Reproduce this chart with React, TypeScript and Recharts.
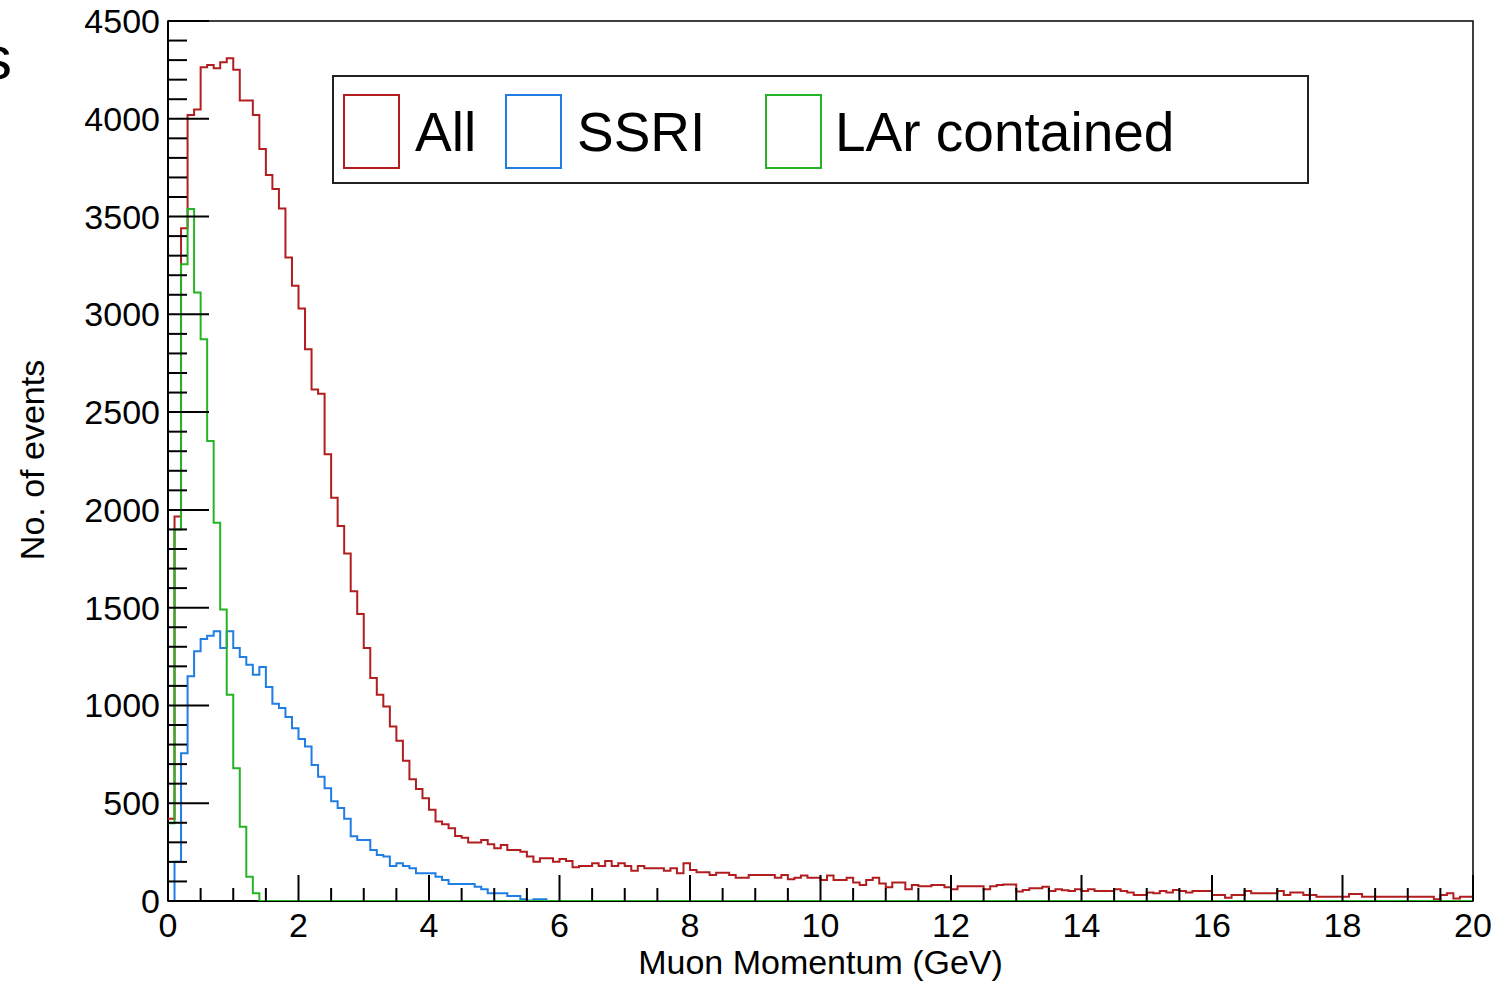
import React from "react";
import { LineChart, Line, XAxis, YAxis, Legend, ReferenceArea, Label } from "recharts";

// histogram bins of 0.1 GeV (No. of events per bin)
const BIN_WIDTH = 0.1;

const allEvents = [
  420, 1966, 3440, 4019, 4047, 4263, 4275, 4258, 4289, 4310,
  4251, 4093, 4093, 4019, 3845, 3712, 3641, 3541, 3290, 3146,
  3030, 2821, 2616, 2594, 2284, 2062, 1917, 1777, 1584, 1468,
  1294, 1140, 1055, 995, 892, 820, 717, 623, 573, 526,
  466, 406, 393, 372, 333, 324, 299, 299, 312, 290,
  270, 287, 261, 261, 252, 227, 201, 218, 218, 201,
  215, 205, 172, 179, 179, 193, 179, 205, 179, 193,
  179, 155, 179, 167, 167, 167, 155, 167, 142, 193,
  159, 147, 147, 133, 145, 145, 133, 119, 119, 133,
  133, 133, 133, 119, 133, 111, 119, 130, 119, 119,
  108, 130, 108, 108, 119, 94, 82, 108, 119, 90,
  70, 94, 94, 60, 82, 75, 75, 82, 82, 70,
  60, 75, 75, 75, 75, 60, 75, 82, 85, 85,
  48, 56, 65, 65, 73, 51, 60, 55, 51, 60,
  51, 60, 51, 51, 51, 60, 51, 43, 31, 31,
  43, 40, 51, 43, 56, 51, 43, 51, 51, 51,
  31, 31, 17, 31, 31, 51, 40, 40, 40, 40,
  51, 31, 43, 43, 31, 31, 22, 22, 22, 22,
  22, 36, 36, 22, 22, 22, 22, 22, 22, 22,
  22, 22, 22, 22, 9, 31, 40, 13, 22, 22,
];

const ssriEvents = [
  0, 201, 756, 1149, 1277, 1340, 1357, 1379, 1294, 1379,
  1294, 1248, 1208, 1157, 1196, 1094, 1009, 987, 941, 884,
  828, 790, 696, 636, 577, 510, 475, 420, 331, 312,
  312, 261, 235, 227, 179, 193, 179, 167, 142, 142,
  142, 124, 108, 87, 87, 87, 87, 73, 60, 39,
  39, 39, 26, 26, 9, 3, 9, 9,
];

const larEvents = [398, 1900, 3256, 3538, 3112, 2873, 2352, 1934, 1490, 1055, 679, 380, 124, 39];

const X_MAJOR = [0, 2, 4, 6, 8, 10, 12, 14, 16, 18, 20];
const X_TICKS = Array.from({ length: 41 }, (_, i) => i * 0.5);
const Y_TICKS = Array.from({ length: 46 }, (_, i) => i * 100);

const SERIES = [
  { key: "all", name: "All", color: "#b21d1f" },
  { key: "ssri", name: "SSRI", color: "#1f7de3" },
  { key: "lar", name: "LAr contained", color: "#25b425" },
];

// one row per bin edge, last row closes the final bin at 20 GeV
const rows = Array.from({ length: allEvents.length + 1 }, (_, i) => {
  const k = Math.min(i, allEvents.length - 1);
  return {
    p: +(i * BIN_WIDTH).toFixed(1),
    all: allEvents[k],
    ssri: ssriEvents[k] ?? 0,
    lar: larEvents[k] ?? 0,
  };
});

const FONT = "'Liberation Sans', Arial, Helvetica, sans-serif";

function XTick(props: any) {
  const { x, y, payload } = props;
  const major = X_MAJOR.includes(payload.value);
  return (
    <g>
      <line x1={x} y1={y} x2={x} y2={y - (major ? 26 : 13)} stroke="#000" strokeWidth={2} />
      {major && (
        <text x={x} y={y + 36} textAnchor="middle" fontSize={34} fontFamily={FONT} fill="#000">
          {payload.value}
        </text>
      )}
    </g>
  );
}

function YTick(props: any) {
  const { x, y, payload } = props;
  const major = payload.value % 500 === 0;
  return (
    <g>
      <line x1={x} y1={y} x2={x + (major ? 41 : 19)} y2={y} stroke="#000" strokeWidth={2} />
      {major && (
        <text x={x - 8} y={y + 12} textAnchor="end" fontSize={34} fontFamily={FONT} fill="#000">
          {payload.value}
        </text>
      )}
    </g>
  );
}

function LegendBox() {
  const swatch = (left: number, color: string) => (
    <div
      style={{
        position: "absolute", left, top: 17, width: 57, height: 75,
        border: `2px solid ${color}`, boxSizing: "border-box",
      }}
    />
  );
  const label = (left: number, text: string) => (
    <div style={{ position: "absolute", left, top: 24, fontSize: 55, lineHeight: "62px", color: "#000" }}>
      {text}
    </div>
  );
  return (
    <div
      style={{
        position: "relative", width: 977, height: 109, border: "2px solid #222",
        boxSizing: "border-box", background: "#fff", fontFamily: FONT,
      }}
    >
      {swatch(9, SERIES[0].color)}
      {label(81, SERIES[0].name)}
      {swatch(171, SERIES[1].color)}
      {label(243, SERIES[1].name)}
      {swatch(431, SERIES[2].color)}
      {label(501, SERIES[2].name)}
    </div>
  );
}

export default function App() {
  return (
    <div style={{ position: "absolute", left: 0, top: 0, width: 1503, height: 983, background: "#fff", overflow: "hidden", fontFamily: FONT }}>
      <span style={{ position: "absolute", left: -19, top: 27, fontSize: 62, lineHeight: "62px", color: "#000" }}>s</span>
      <LineChart width={1503} height={983} data={rows} margin={{ top: 21, right: 30, left: 0, bottom: 0 }}>
        <XAxis
          dataKey="p"
          type="number"
          domain={[0, 20]}
          ticks={X_TICKS}
          interval={0}
          height={82}
          tickSize={0}
          tickMargin={0}
          tickLine={false}
          axisLine={{ stroke: "#000", strokeWidth: 2 }}
          tick={(p: any) => <XTick {...p} />}
        >
          <Label value="Muon Momentum (GeV)" position="insideBottom" offset={9} fontSize={34} fontFamily={FONT} fill="#000" />
        </XAxis>
        <YAxis
          type="number"
          domain={[0, 4500]}
          ticks={Y_TICKS}
          interval={0}
          width={168}
          tickSize={0}
          tickMargin={0}
          tickLine={false}
          allowDataOverflow
          axisLine={{ stroke: "#000", strokeWidth: 2 }}
          tick={(p: any) => <YTick {...p} />}
        >
          <Label
            content={() => (
              <text transform="translate(44,460) rotate(-90)" textAnchor="middle" fontSize={34} fontFamily={FONT} fill="#000">
                No. of events
              </text>
            )}
          />
        </YAxis>
        <ReferenceArea x1={0} x2={20} y1={0} y2={4500} fill="none" stroke="#000" strokeWidth={1.5} />
        {SERIES.map((s) => (
          <Line
            key={s.key}
            dataKey={s.key}
            name={s.name}
            type="stepAfter"
            stroke={s.color}
            strokeWidth={2}
            dot={false}
            isAnimationActive={false}
            {...({ zIndex: 600 } as any)}
          />
        ))}
        <Legend
          layout="vertical"
          align="center"
          verticalAlign="middle"
          content={() => <LegendBox />}
          wrapperStyle={{ position: "absolute", left: 332, top: 75, width: 977, height: 109 }}
        />
      </LineChart>
    </div>
  );
}
